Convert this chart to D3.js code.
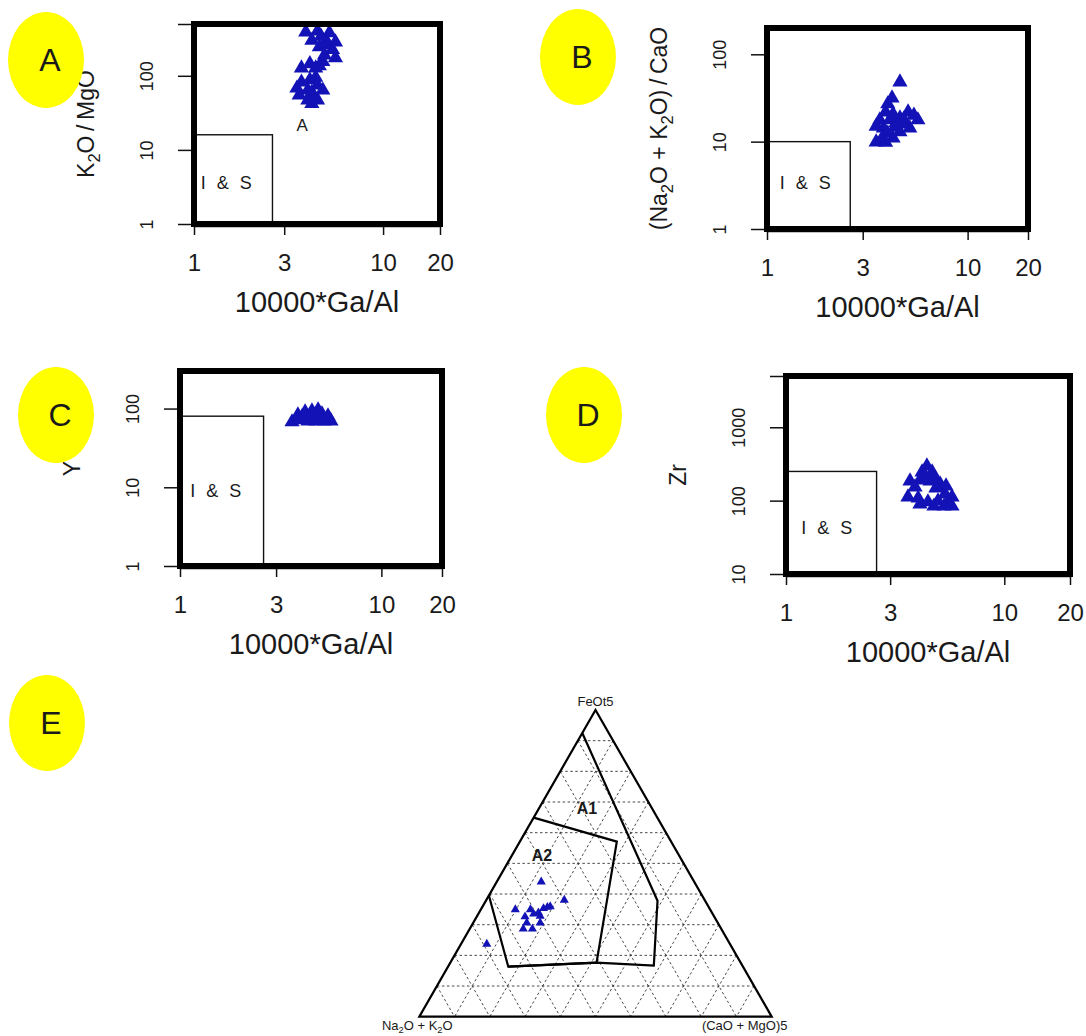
<!DOCTYPE html>
<html>
<head>
<meta charset="utf-8">
<script src="https://cdn.jsdelivr.net/npm/d3@7"></script>
<style>
  body { margin: 0; background: #fff; }
  svg { display: block; }
  text { font-family: "Liberation Sans", Arial, sans-serif; fill: #1a1a1a; }
</style>
</head>
<body>
<svg id="fig" width="1086" height="1036"></svg>
<script>
// ---------- data ----------
// Ga/Al discrimination diagrams (Whalen et al., 1987); x = 10000*Ga/Al
const gaAlTicks = [1, 3, 10, 20];
const isFieldGaAl = 2.6;

// A: K2O/MgO
const gaAlA   = [3.9, 4.5, 5.2, 4.2, 5.0, 5.6, 4.6, 5.4, 4.9, 5.6, 4.8, 4.1, 3.7, 4.4, 4.6, 3.7, 4.1, 4.5, 3.5, 4.0, 4.8, 3.6, 4.3, 4.0, 4.5, 4.2, 4.7, 5.1, 4.4, 4.2];
const k2oMgo  = [390, 400, 380, 300, 300, 285, 245, 225, 190, 175, 155, 145, 127, 127, 136, 82, 88, 75, 68, 64, 64, 55, 53, 47, 47, 42, 340, 260, 95, 60];
const ticksA  = [1, 10, 100, 500];

// B: (Na2O+K2O)/CaO
const gaAlB   = [4.6, 4.2, 4.0, 3.9, 4.25, 3.65, 4.1, 4.6, 5.05, 5.4, 5.65, 4.9, 4.35, 3.8, 3.5, 4.0, 4.6, 5.15, 3.75, 4.25, 3.5, 3.9, 4.4, 4.8];
const alkCao  = [48, 31.5, 27, 21.8, 20.7, 17.7, 17.7, 18.6, 21.8, 20, 17.7, 15.9, 14.7, 14.3, 15, 12.5, 12.9, 14.3, 11, 11, 9.9, 9.8, 16.5, 18];
const ticksB  = [1, 10, 100];

// C: Y
const gaAlC   = [3.6, 3.94, 4.32, 4.73, 5.19, 5.62, 3.85, 4.18, 4.52, 4.85, 5.07, 5.43, 4.42, 4.03, 4.65, 5.0];
const yPpm    = [67.6, 71.6, 69.5, 69.5, 69.5, 69.5, 83, 90.5, 93, 96, 85, 80.5, 76, 78, 82, 76];
const ticksC  = [1, 10, 100];

// D: Zr
const gaAlD   = [4.42, 4.2, 4.67, 3.7, 4.11, 4.57, 5.08, 5.41, 3.9, 4.86, 3.62, 4.03, 5.35, 5.76, 4.47, 4.97, 5.52, 4.11, 4.76, 5.3, 5.76, 4.35, 4.8];
const zrPpm   = [296, 245, 245, 185, 191, 185, 168, 158, 153, 148, 112, 108, 123, 112, 96, 99, 96, 90, 84, 84, 84, 215, 205];
const ticksD  = [10, 100, 1000, 5000];

// E: FeOt*5 – (Na2O+K2O) – (CaO+MgO)*5 ternary (Eby, 1992), in percent
const ternFeot = [44, 38, 35, 35, 34, 33.5, 35.3, 35.7, 35.9, 32.8, 32.6, 30.6, 28.6, 28.6, 30.6, 23.7];
const ternAlk  = [43.4, 39.8, 55.4, 51.1, 49.4, 50.8, 47.1, 45.8, 44.9, 49.3, 53.7, 54.2, 56.2, 53.6, 50.4, 69];
const ternCaMg = [12.6, 22.1, 9.8, 14.1, 16.9, 15.7, 17.6, 18.5, 19.2, 17.9, 13.7, 15.2, 15.2, 17.8, 19, 7.3];
// field boundaries as [FeOt, alk, CaMg]
const a1Boundary = [[92.5, 7.5, 0], [37.8, 13.5, 48.7], [16.7, 25.1, 58.2], [17.6, 40.9, 41.5], [16.3, 66.6, 17.1]];
const a2Boundary = [[39.5, 60.5, 0], [16.3, 66.6, 17.1], [17.6, 40.9, 41.5], [57.1, 15.4, 27.5], [64.9, 35.1, 0]];
const gridSteps  = [10, 20, 30, 40, 50, 60, 70, 80, 90];

// ---------- drawing ----------
const svg = d3.select("#fig");
svg.append("rect").attr("width", 1086).attr("height", 1036).attr("fill", "#fff");
const ptColor = "#1212b6";

function richText(g, segs, size) {
  // segs: [text, isSubscript]
  let sub = false;
  segs.forEach(([s, isSub]) => {
    const ts = g.append("tspan").text(s);
    if (isSub && !sub) { ts.attr("font-size", size * 0.72).attr("dy", size * 0.25); }
    else if (!isSub && sub) { ts.attr("dy", -size * 0.25); }
    else if (isSub) ts.attr("font-size", size * 0.72);
    sub = isSub;
  });
}

function logPanel(p) {
  const x = d3.scaleLog().domain([1, 20]).range([p.left, p.right]);
  const y = d3.scaleLog().domain(p.yDomain).range([p.bottom, p.top]);
  const g = svg.append("g");

  // I & S field
  g.append("rect")
    .attr("x", x(1)).attr("y", y(p.fieldY))
    .attr("width", x(isFieldGaAl) - x(1))
    .attr("height", y(p.yDomain[0]) - y(p.fieldY))
    .attr("fill", "none").attr("stroke", "#111").attr("stroke-width", 1.4);
  g.append("text").attr("x", x(p.isAt[0])).attr("y", y(p.isAt[1]))
    .attr("dy", "0.36em").attr("text-anchor", "middle")
    .attr("font-size", 18).attr("letter-spacing", 3).attr("fill", "#333")
    .text("I & S");
  if (p.aAt) {
    g.append("text").attr("x", x(p.aAt[0])).attr("y", y(p.aAt[1]))
      .attr("dy", "0.36em").attr("text-anchor", "middle")
      .attr("font-size", 17).attr("fill", "#333").text("A");
  }

  // samples
  g.append("g").selectAll("path").data(p.xs)
    .join("path")
    .attr("transform", (d, i) => `translate(${x(d)},${y(p.ys[i])})`)
    .attr("d", d3.symbol(d3.symbolTriangle, 100))
    .attr("fill", ptColor);

  // axes
  const ax = g.append("g").attr("transform", `translate(0,${p.bottom + 2})`)
    .call(d3.axisBottom(x).tickValues(gaAlTicks).tickFormat(d3.format("d")).tickSize(9).tickSizeOuter(0));
  ax.select(".domain").attr("stroke", "#111").attr("stroke-width", 1.5);
  ax.selectAll(".tick line").attr("stroke", "#111").attr("stroke-width", 1.5);
  ax.selectAll(".tick text").attr("y", 45).attr("dy", null)
    .attr("font-size", 24).attr("font-family", "Liberation Sans, Arial, sans-serif").attr("fill", "#1a1a1a");

  const ay = g.append("g").attr("transform", `translate(${p.left - 1},0)`)
    .call(d3.axisLeft(y).tickValues(p.yTicks)
      .tickFormat(d => (d === p.hiddenTick ? "" : d3.format("d")(d))).tickSize(15).tickSizeOuter(0));
  ay.select(".domain").attr("stroke", "#111").attr("stroke-width", 1.5);
  ay.selectAll(".tick line").attr("stroke", "#111").attr("stroke-width", 1.5);
  ay.selectAll(".tick text").attr("x", null).attr("dy", null)
    .attr("text-anchor", "middle").attr("transform", "translate(-40,0) rotate(-90)")
    .attr("font-size", 18).attr("font-family", "Liberation Sans, Arial, sans-serif").attr("fill", "#1a1a1a");

  // frame
  g.append("rect").attr("x", p.left).attr("y", p.top)
    .attr("width", p.right - p.left).attr("height", p.bottom - p.top)
    .attr("fill", "none").attr("stroke", "#000").attr("stroke-width", 6);

  // titles
  g.append("text").attr("x", (p.left + p.right) / 2).attr("y", p.bottom + 88)
    .attr("text-anchor", "middle").attr("font-size", 29).attr("fill", "#222")
    .text("10000*Ga/Al");
  const yt = g.append("text")
    .attr("transform", `translate(${p.left - 100},${(p.top + p.bottom) / 2}) rotate(-90)`)
    .attr("text-anchor", "middle").attr("font-size", 23).attr("fill", "#222");
  richText(yt, p.yTitle, 23);
}

logPanel({ left: 194, right: 440, top: 24, bottom: 224, yDomain: [1, 500], yTicks: ticksA, hiddenTick: 500,
  fieldY: 16, isAt: [1.51, 3.6], aAt: [3.73, 21.7], xs: gaAlA, ys: k2oMgo,
  yTitle: [["K", false], ["2", true], ["O\u2009/\u2009MgO", false]] });
logPanel({ left: 767, right: 1028, top: 28, bottom: 229, yDomain: [1, 200], yTicks: ticksB,
  fieldY: 10, isAt: [1.58, 3.45], xs: gaAlB, ys: alkCao,
  yTitle: [["(Na", false], ["2", true], ["O + K", false], ["2", true], ["O)\u2009/\u2009CaO", false]] });
logPanel({ left: 180, right: 442, top: 371, bottom: 566, yDomain: [1, 300], yTicks: ticksC,
  fieldY: 80, isAt: [1.53, 9.0], xs: gaAlC, ys: yPpm,
  yTitle: [["Y", false]] });
logPanel({ left: 786, right: 1070, top: 376, bottom: 574, yDomain: [10, 5000], yTicks: ticksD, hiddenTick: 5000,
  fieldY: 250, isAt: [1.56, 43.6], xs: gaAlD, ys: zrPpm,
  yTitle: [["Zr", false]] });

// ---------- ternary ----------
const S3 = Math.sqrt(3) / 2;
const tx = d3.scaleLinear().domain([0, 1]).range([419.3, 771.7]);
const ty = d3.scaleLinear().domain([0, S3]).range([1016.7, 710]);
function tern([fe, alk, cm]) {
  const s = fe + alk + cm, a = fe / s, c = cm / s;
  return [tx(c + a / 2), ty(a * S3)];
}
const te = svg.append("g");
const line = d3.line();

// dashed 10 % grid
const gridSegs = [];
gridSteps.forEach(t => {
  gridSegs.push([[t, 100 - t, 0], [t, 0, 100 - t]]);   // FeOt constant
  gridSegs.push([[100 - t, t, 0], [0, t, 100 - t]]);   // alkali constant
  gridSegs.push([[100 - t, 0, t], [0, 100 - t, t]]);   // CaO+MgO constant
});
te.append("g").selectAll("path").data(gridSegs).join("path")
  .attr("d", d => line(d.map(tern)))
  .attr("fill", "none").attr("stroke", "#333").attr("stroke-width", 0.9)
  .attr("stroke-dasharray", "2.5,2.5");

// outline
te.append("path").attr("d", line([[100, 0, 0], [0, 100, 0], [0, 0, 100]].map(tern)) + "Z")
  .attr("fill", "none").attr("stroke", "#000").attr("stroke-width", 2.2).attr("stroke-linejoin", "miter");

// fields
[a1Boundary, a2Boundary].forEach(b => {
  te.append("path").attr("d", line(b.map(tern)))
    .attr("fill", "none").attr("stroke", "#000").attr("stroke-width", 2.2);
});
const a1Pos = tern([68, 18.4, 13.6]), a2Pos = tern([52.8, 38.8, 8.4]);
te.append("text").attr("x", a1Pos[0]).attr("y", a1Pos[1])
  .attr("dy", "0.36em").attr("text-anchor", "middle").attr("font-family", "Lato, sans-serif")
  .attr("font-weight", "bold").attr("font-size", 16).text("A1");
te.append("text").attr("x", a2Pos[0]).attr("y", a2Pos[1])
  .attr("dy", "0.36em").attr("text-anchor", "middle").attr("font-family", "Lato, sans-serif")
  .attr("font-weight", "bold").attr("font-size", 16).text("A2");

// samples
te.append("g").selectAll("path").data(ternFeot).join("path")
  .attr("transform", (d, i) => {
    const [px, py] = tern([d, ternAlk[i], ternCaMg[i]]);
    return `translate(${px},${py})`;
  })
  .attr("d", d3.symbol(d3.symbolTriangle, 36))
  .attr("fill", ptColor);

// apex labels
const apexTop = tern([100, 0, 0]), apexLeft = tern([0, 100, 0]), apexRight = tern([0, 0, 100]);
te.append("text").attr("x", apexTop[0]).attr("y", apexTop[1] - 4).attr("text-anchor", "middle")
  .attr("font-size", 13).attr("fill", "#333").text("FeOt5");
const lt = te.append("text").attr("x", apexLeft[0] - 2).attr("y", apexLeft[1] + 13).attr("text-anchor", "middle")
  .attr("font-size", 13).attr("fill", "#333");
richText(lt, [["Na", false], ["2", true], ["O + K", false], ["2", true], ["O", false]], 13);
te.append("text").attr("x", apexRight[0] - 27).attr("y", apexRight[1] + 13).attr("text-anchor", "middle")
  .attr("font-size", 13).attr("fill", "#333").text("(CaO + MgO)5");

// ---------- panel letters ----------
const badges = [["A", 46, 60], ["B", 578, 57], ["C", 56, 415], ["D", 584, 415], ["E", 47, 723]];
const bg = svg.append("g");
badges.forEach(([t, cx, cy]) => {
  bg.append("ellipse").attr("cx", cx).attr("cy", cy).attr("rx", 38).attr("ry", 48).attr("fill", "#ffff00");
  bg.append("text").attr("x", cx + 4).attr("y", cy + 11).attr("text-anchor", "middle")
    .attr("font-family", "Lato, sans-serif").attr("font-size", 32).attr("fill", "#000").text(t);
});
</script>
</body>
</html>
